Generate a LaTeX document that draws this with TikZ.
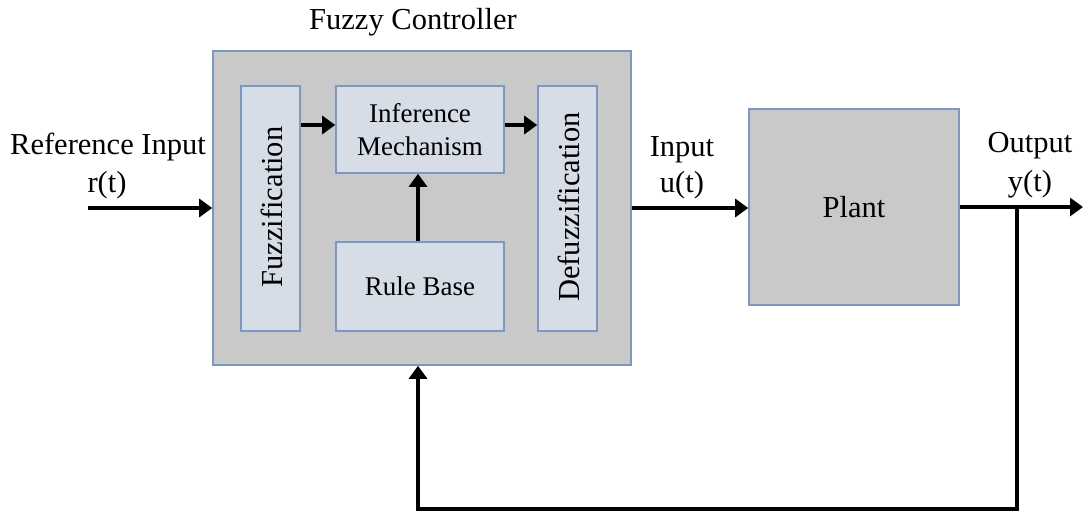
\documentclass[tikz,border=0pt]{standalone}
\usepackage{fontspec}
\setmainfont{Liberation Serif}
\usetikzlibrary{arrows.meta,calc}
\definecolor{bord}{RGB}{122,152,192}
\definecolor{outerfill}{RGB}{201,201,201}
\definecolor{innerfill}{RGB}{214,221,231}
\begin{document}
\begin{tikzpicture}[x=1pt,y=-1pt,
  bigbox/.style={draw=bord,line width=1.6pt,fill=outerfill,rectangle,inner sep=0pt},
  smallbox/.style={draw=bord,line width=1.6pt,fill=innerfill,rectangle,inner sep=0pt,align=center},
  lbl/.style={font=\fontsize{30.5}{34}\selectfont,inner sep=0pt,anchor=base},
  inlbl/.style={font=\fontsize{27}{33}\selectfont},
  arr/.style={line width=3.5pt,-{Triangle[length=13pt,width=18pt]}},
  ln/.style={line width=3.5pt}]
\useasboundingbox (0,0) rectangle (1083,513);
\fill[white] (0,0) rectangle (1083,513);
% controller
\node[bigbox,minimum width=418pt,minimum height=314pt] (ctrl) at (422,208) {};
\node[lbl] (ctrltitle) at (413,29.3) {Fuzzy Controller};
\node[smallbox,minimum width=59pt,minimum height=245pt] (fuzz) at (270.5,208.5) {};
\node[lbl,rotate=90,anchor=center] (fuzzt) at (272,207) {Fuzzification};
\node[smallbox,minimum width=168pt,minimum height=87pt,inlbl] (inf) at (420,129.5) {Inference\\Mechanism};
\node[smallbox,minimum width=168pt,minimum height=89pt,inlbl] (rb) at (420,286.5) {Rule Base};
\node[smallbox,minimum width=59pt,minimum height=245pt] (defuzz) at (567.5,208.5) {};
\node[lbl,rotate=90,anchor=center] (defuzzt) at (569,207) {Defuzzification};
% plant
\node[bigbox,minimum width=210pt,minimum height=196pt,font=\fontsize{30.5}{34}\selectfont] (plant) at (854,207) {Plant};
% labels
\node[lbl] (refA) at (108,155) {Reference Input};
\node[lbl] (refB) at (107,192) {r(t)};
\node[lbl] (inA) at (682,156.5) {Input};
\node[lbl] (inB) at (682,193) {u(t)};
\node[lbl] (outA) at (1030,153) {Output};
\node[lbl] (outB) at (1030,191) {y(t)};
% coordinates
\coordinate (refstart) at (88,208);
\coordinate (outend) at (1083,207);
\coordinate (tap) at (1017,207);
\coordinate (fbR) at (1017,509);
\coordinate (fbL) at (418,509);
% connectors
\draw[arr] (refstart) -- (ctrl.west);
\draw[arr] ([yshift=4.5pt]inf.west -| fuzz.east) -- ([yshift=4.5pt]inf.west);
\draw[arr] ([yshift=4.5pt]inf.east) -- ([yshift=4.5pt]inf.east -| defuzz.west);
\draw[arr] ([xshift=-2pt]rb.north) -- ([xshift=-2pt]inf.south);
\draw[arr] (ctrl.east) -- (ctrl.east -| plant.west);
\draw[arr] (plant.east) -- (outend);
\draw[arr] (tap) -- (fbR) -- (fbL) -- (fbL |- ctrl.south);
\end{tikzpicture}
\end{document}
